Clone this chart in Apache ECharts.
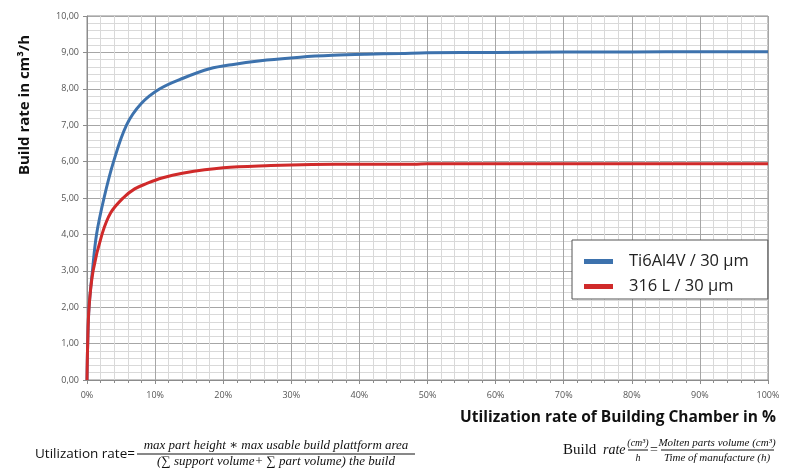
<!DOCTYPE html>
<html>
<head>
<meta charset="utf-8">
<script src="https://cdn.jsdelivr.net/npm/echarts@6/dist/echarts.min.js"></script>
<style>
  html, body { margin: 0; padding: 0; background: #fff; }
  #chart { width: 787px; height: 469px; }
</style>
</head>
<body>
<div id="chart"></div>
<script>
// utilization rate in %, build rate in cm3/h
const tiX = [0, 0.1, 0.3, 0.8, 1.4, 2.5, 3.9, 5.8, 8, 10.7, 14.1, 18, 21.5, 26.4, 31.3, 36.1, 41, 46, 50, 60, 70, 80, 90, 100];
const tiY = [0, 1.0, 2.0, 3.0, 4.0, 5.0, 6.0, 7.0, 7.6, 8.0, 8.29, 8.55, 8.67, 8.79, 8.87, 8.92, 8.95, 8.97, 8.99, 9.0, 9.01, 9.01, 9.02, 9.02];
const ssX = [0, 0.1, 0.3, 0.9, 2.2, 3.5, 5.3, 7, 8.8, 11, 14, 20, 27, 33, 40, 48, 50, 60, 80, 100];
const ssY = [0, 1.0, 2.0, 3.0, 4.0, 4.6, 5.0, 5.25, 5.4, 5.55, 5.68, 5.83, 5.89, 5.92, 5.93, 5.93, 5.94, 5.94, 5.94, 5.94];
const seriesNames = ['Ti6Al4V / 30 µm', '316 L / 30 µm'];

const pairs = (xs, ys) => xs.map((x, i) => [x, ys[i]]);

const myChart = echarts.init(document.getElementById('chart'));
const serif = '"Liberation Serif", "DejaVu Serif", serif';
const sans = '"Open Sans", "Liberation Sans", sans-serif';

let option = {
  animation: false,
  backgroundColor: '#fff',
  grid: { left: 87, right: 19, top: 16, bottom: 89, show: true, borderColor: '#8c8c8c', borderWidth: 1 },
  legend: {
    orient: 'vertical',
    left: 572, top: 240,
    data: seriesNames,
    backgroundColor: '#fff',
    borderColor: '#555',
    borderWidth: 1,
    padding: [13, 19, 4, 12],
    itemGap: 8,
    itemWidth: 29, itemHeight: 5,
    icon: 'rect',
    textStyle: { fontFamily: sans, fontSize: 16.5, color: '#222', padding: [0, 0, 0, 11] }
  },
  xAxis: {
    type: 'value', min: 0, max: 100, interval: 10,
    axisLine: { lineStyle: { color: '#8c8c8c' } },
    axisTick: { show: true, length: 4, lineStyle: { color: '#8c8c8c' } },
    minorTick: { show: true, splitNumber: 5, length: 3, lineStyle: { color: '#8c8c8c' } },
    axisLabel: { formatter: v => v + '%', fontFamily: sans, fontSize: 9, color: '#555', margin: 11 },
    splitLine: { lineStyle: { color: '#a6a6a6' } },
    minorSplitLine: { show: true, lineStyle: { color: '#d9d9d9' } }
  },
  yAxis: {
    type: 'value', min: 0, max: 10, interval: 1,
    axisLine: { show: true, lineStyle: { color: '#8c8c8c' } },
    axisTick: { show: true, length: 4, lineStyle: { color: '#8c8c8c' } },
    axisLabel: { formatter: v => v.toFixed(2).replace('.', ','), fontFamily: sans, fontSize: 9, color: '#555', margin: 8 },
    splitLine: { lineStyle: { color: '#a6a6a6' } },
    minorSplitLine: { show: true, lineStyle: { color: '#d9d9d9' } },
    minorTick: { show: false, splitNumber: 5 }
  },
  series: [
    {
      name: seriesNames[0], type: 'line', data: pairs(tiX, tiY),
      showSymbol: false, smooth: 0.35,
      lineStyle: { color: '#3d72ad', width: 3 }, itemStyle: { color: '#3d72ad' }
    },
    {
      name: seriesNames[1], type: 'line', data: pairs(ssX, ssY),
      showSymbol: false, smooth: 0.35,
      lineStyle: { color: '#d02a2a', width: 3 }, itemStyle: { color: '#d02a2a' }
    }
  ],
  graphic: [
    { // y axis title
      type: 'text', x: 25, y: 105, rotation: Math.PI / 2,
      style: { text: 'Build rate in cm³/h', font: 'bold 15px ' + sans, fill: '#111', align: 'center', verticalAlign: 'middle' }
    },
    { // x axis title
      type: 'text', x: 776, y: 418,
      style: { text: 'Utilization rate of Building Chamber in %', font: 'bold 15.5px ' + sans, fill: '#111', align: 'right', verticalAlign: 'middle' }
    },
    // left formula
    { type: 'text', x: 35, y: 454, style: { text: 'Utilization rate=', font: '13.5px ' + sans, fill: '#111', align: 'left', verticalAlign: 'middle' } },
    { type: 'text', x: 276, y: 446, style: { text: 'max part height ∗ max usable build plattform area', font: 'italic 13px ' + serif, fill: '#111', align: 'center', verticalAlign: 'middle' } },
    { type: 'line', shape: { x1: 137, y1: 454, x2: 415, y2: 454 }, style: { stroke: '#111', lineWidth: 1 } },
    { type: 'text', x: 276, y: 462, style: { text: '(∑ support volume+ ∑ part volume) the build', font: 'italic 13px ' + serif, fill: '#111', align: 'center', verticalAlign: 'middle' } },
    // right formula
    { type: 'text', x: 563, y: 450, style: { text: 'Build', font: '15px ' + serif, fill: '#111', align: 'left', verticalAlign: 'middle' } },
    { type: 'text', x: 603, y: 450, style: { text: 'rate', font: 'italic 14px ' + serif, fill: '#111', align: 'left', verticalAlign: 'middle' } },
    { type: 'text', x: 638, y: 443, style: { text: '(cm³)', font: 'italic 10px ' + serif, fill: '#111', align: 'center', verticalAlign: 'middle' } },
    { type: 'line', shape: { x1: 628, y1: 450, x2: 648, y2: 450 }, style: { stroke: '#111', lineWidth: 1 } },
    { type: 'text', x: 638, y: 458, style: { text: 'h', font: 'italic 10px ' + serif, fill: '#111', align: 'center', verticalAlign: 'middle' } },
    { type: 'text', x: 654, y: 450, style: { text: '=', font: '14px ' + serif, fill: '#111', align: 'center', verticalAlign: 'middle' } },
    { type: 'text', x: 717, y: 443, style: { text: 'Molten parts volume (cm³)', font: 'italic 11px ' + serif, fill: '#111', align: 'center', verticalAlign: 'middle' } },
    { type: 'line', shape: { x1: 661, y1: 450, x2: 774, y2: 450 }, style: { stroke: '#111', lineWidth: 1 } },
    { type: 'text', x: 717, y: 458, style: { text: 'Time of manufacture (h)', font: 'italic 11px ' + serif, fill: '#111', align: 'center', verticalAlign: 'middle' } }
  ]
};
myChart.setOption(option);
</script>
</body>
</html>
